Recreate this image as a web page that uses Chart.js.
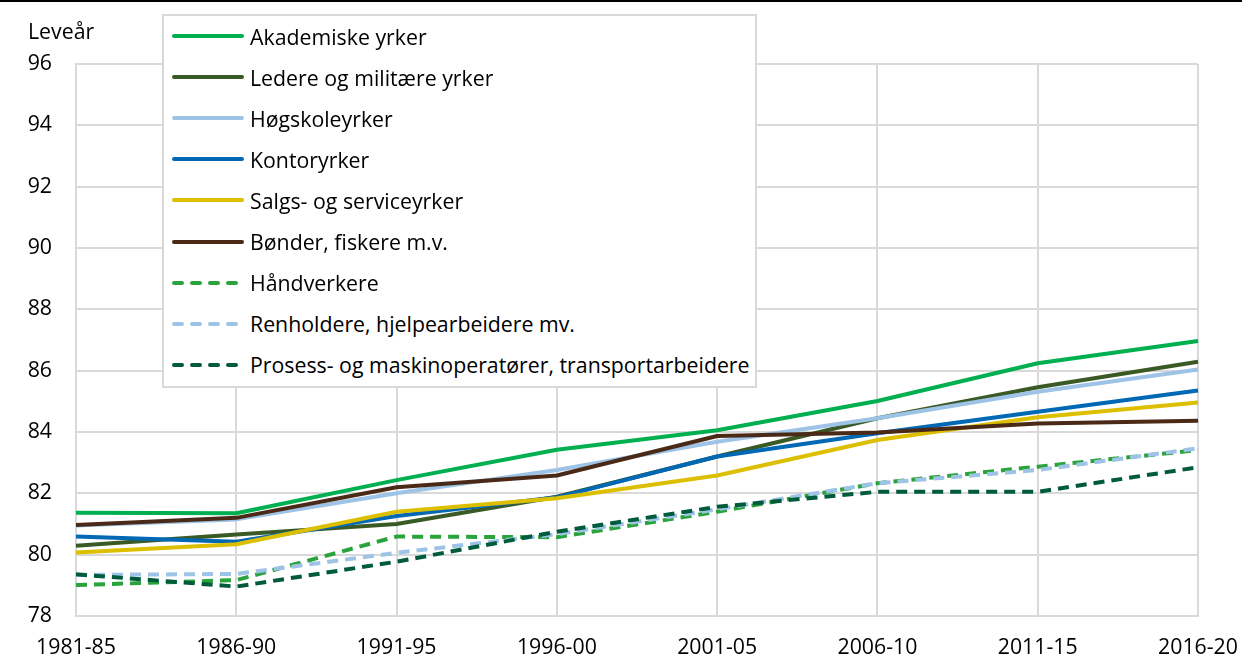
<!DOCTYPE html>
<html>
<head>
<meta charset="utf-8">
<script src="https://cdn.jsdelivr.net/npm/chart.js@4.4.0/dist/chart.umd.min.js"></script>
<style>
    html, body { margin: 0; padding: 0; background: #fff; }
    body { width: 1242px; height: 659px; position: relative; overflow: hidden; font-family: "Open Sans", sans-serif; }
    #wrap { position: absolute; left: 0; top: 0; width: 1242px; height: 659px; }
    #topline { position: absolute; left: 0; top: 0; width: 1242px; height: 2px; background: #000; }
    #unit { position: absolute; left: 28px; top: 16px; font-size: 21.3px; color: #000; }
    #legend {
        position: absolute; left: 162px; top: 14px; width: 591px; height: 370px;
        background: #fff; border: 2px solid #d9d9d9;
    }
    .item { position: absolute; left: 6px; height: 30px; display: flex; align-items: center; font-size: 21.3px; color: #000; white-space: nowrap; }
    .item canvas { margin-right: 6px; }
</style>
</head>
<body>
<div id="wrap"><canvas id="chart" width="1242" height="659"></canvas></div>
<div id="topline"></div>
<div id="unit">Leveår</div>
<div id="legend"></div>

<script>
// --- Data ---
const periods = ['1981-85', '1986-90', '1991-95', '1996-00', '2001-05', '2006-10', '2011-15', '2016-20'];
const seriesNames = [
    'Akademiske yrker',
    'Ledere og militære yrker',
    'Høgskoleyrker',
    'Kontoryrker',
    'Salgs- og serviceyrker',
    'Bønder, fiskere m.v.',
    'Håndverkere',
    'Renholdere, hjelpearbeidere mv.',
    'Prosess- og maskinoperatører, transportarbeidere'
];
const akademiske  = [81.37, 81.35, 82.43, 83.42, 84.06, 85.01, 86.24, 86.97];
const ledere      = [80.29, 80.66, 81.00, 81.89, 83.20, 84.45, 85.46, 86.29];
const hogskole    = [80.95, 81.15, 82.00, 82.76, 83.68, 84.45, 85.31, 86.04];
const kontor      = [80.59, 80.42, 81.26, 81.87, 83.20, 83.96, 84.66, 85.35];
const salg        = [80.07, 80.34, 81.40, 81.84, 82.58, 83.74, 84.48, 84.96];
const bonder      = [80.97, 81.20, 82.20, 82.58, 83.87, 83.98, 84.28, 84.37];
const handverk    = [79.01, 79.17, 80.59, 80.57, 81.40, 82.33, 82.87, 83.41];
const renhold     = [79.34, 79.37, 80.06, 80.67, 81.48, 82.33, 82.76, 83.47];
const prosess     = [79.36, 78.96, 79.77, 80.75, 81.56, 82.05, 82.05, 82.85];
const yTicks = [78, 80, 82, 84, 86, 88, 90, 92, 94, 96];

const seriesValues = [akademiske, ledere, hogskole, kontor, salg, bonder, handverk, renhold, prosess];
const colors = ['#00b050', '#3a5a25', '#9dc3e6', '#0068b4', '#dcbf00', '#4a2a17', '#2aa33c', '#9dc3e6', '#005a3c'];
const dashed = [false, false, false, false, false, false, true, true, true];

const datasets = seriesNames.map((name, i) => ({
    label: name,
    data: seriesValues[i],
    borderColor: colors[i],
    backgroundColor: colors[i],
    borderWidth: 4,
    borderDash: dashed[i] ? [11, 7] : [],
    borderCapStyle: 'butt',
    borderJoinStyle: 'round',
    pointRadius: 0,
    tension: 0,
    // later series sit on top, like the original
    order: seriesNames.length - i
}));

const font = { family: '"Open Sans", sans-serif', size: 21.3 };

new Chart(document.getElementById('chart'), {
    type: 'line',
    data: { labels: periods, datasets: datasets },
    options: {
        responsive: false,
        animation: false,
        layout: { padding: { top: 64, right: 44, bottom: 0, left: 0 } },
        plugins: { legend: { display: false }, tooltip: { enabled: false } },
        scales: {
            x: {
                offset: false,
                grid: { color: '#d9d9d9', lineWidth: 2, drawTicks: false },
                border: { color: '#d9d9d9', width: 2 },
                ticks: { color: '#000', font: font, padding: 19, maxRotation: 0, autoSkip: false },
                afterFit: (scale) => {
                    scale.height = 43;
                    scale.paddingLeft = 0;
                    scale.paddingRight = 0;
                }
            },
            y: {
                min: 78,
                max: 96,
                afterBuildTicks: (scale) => { scale.ticks = yTicks.map(v => ({ value: v })); },
                grid: { color: '#d9d9d9', lineWidth: 2, drawTicks: false },
                border: { color: '#d9d9d9', width: 2 },
                ticks: { color: '#000', font: font, padding: 24 },
                afterFit: (scale) => {
                    scale.width = 76;
                    scale.paddingTop = 0;
                    scale.paddingBottom = 0;
                }
            }
        }
    }
});

// --- HTML legend over the plot ---
const legendBox = document.getElementById('legend');
seriesNames.forEach((name, i) => {
    const row = document.createElement('div');
    row.className = 'item';
    row.style.top = (5 + i * 41.1) + 'px';
    const sw = document.createElement('canvas');
    sw.width = 74; sw.height = 10;
    const ctx = sw.getContext('2d');
    ctx.strokeStyle = colors[i];
    ctx.lineWidth = 4;
    ctx.lineCap = 'round';
    if (dashed[i]) ctx.setLineDash([8, 10]);
    ctx.beginPath();
    ctx.moveTo(4, 5);
    ctx.lineTo(72, 5);
    ctx.stroke();
    row.appendChild(sw);
    const txt = document.createElement('span');
    txt.textContent = name;
    row.appendChild(txt);
    legendBox.appendChild(row);
});
</script>
</body>
</html>
